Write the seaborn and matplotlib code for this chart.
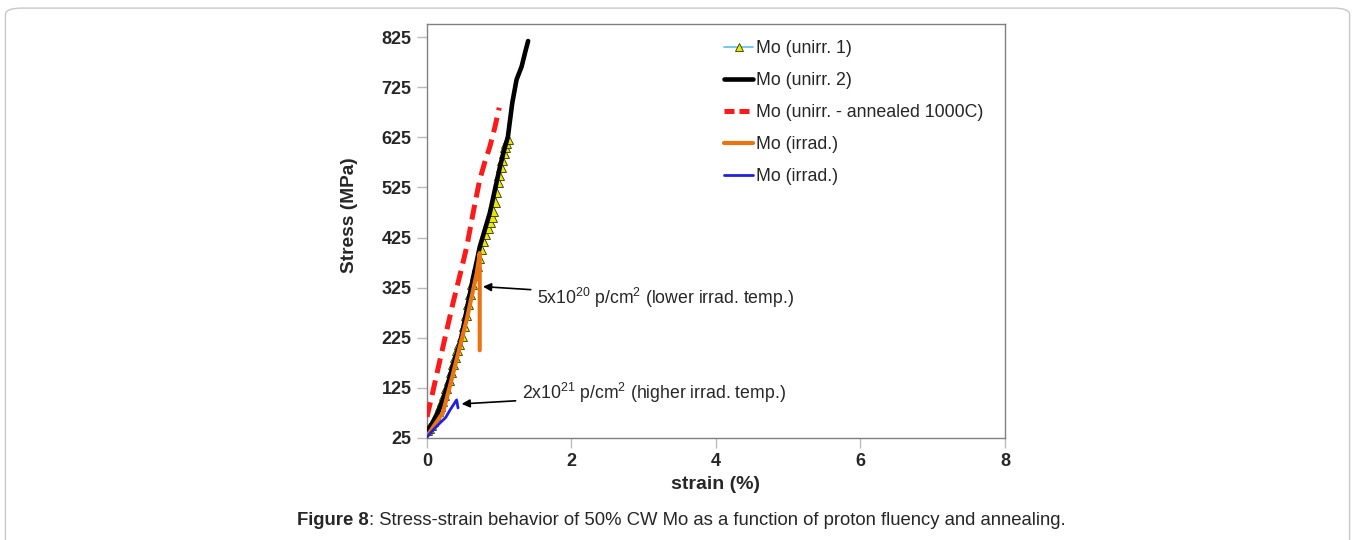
import matplotlib
matplotlib.use("Agg")
import matplotlib.pyplot as plt
import seaborn as sns
import pandas as pd
from matplotlib.patches import FancyBboxPatch

sns.set_theme(style="white")
plt.rcParams['font.family'] = ['Liberation Sans', 'DejaVu Sans']
plt.rcParams['mathtext.fontset'] = 'custom'
plt.rcParams['mathtext.rm'] = 'Liberation Sans'
plt.rcParams['mathtext.it'] = 'Liberation Sans:italic'
plt.rcParams['mathtext.bf'] = 'Liberation Sans:bold'

# ---- data ----
unirr1_strain = [0.00, 0.03, 0.06, 0.09, 0.12, 0.15, 0.18, 0.21, 0.24, 0.27, 0.30, 0.33,
                 0.36, 0.39, 0.42, 0.45, 0.48, 0.51, 0.54, 0.57, 0.60, 0.63, 0.66, 0.69,
                 0.72, 0.75, 0.78, 0.81, 0.84, 0.87, 0.90, 0.92, 0.94, 0.96, 0.98, 1.00,
                 1.02, 1.04, 1.06, 1.08, 1.10, 1.12]
unirr1_stress = [40, 45, 50, 58, 68, 78, 88, 98, 110, 125, 140, 156,
                 172, 187, 200, 212, 228, 248, 270, 292, 312, 332, 350, 368,
                 385, 402, 418, 432, 444, 455, 466, 478, 495, 515, 535, 550,
                 565, 580, 593, 605, 614, 622]

unirr2_strain = [0.00, 0.08, 0.15, 0.22, 0.29, 0.36, 0.41, 0.46, 0.55, 0.64, 0.69, 0.73,
                 0.80, 0.87, 0.94, 1.01, 1.06, 1.12, 1.18, 1.24, 1.31, 1.36, 1.40]
unirr2_stress = [38, 55, 75, 101, 133, 170, 192, 215, 280, 346, 378, 406,
                 440, 474, 520, 566, 595, 626, 693, 740, 766, 795, 817]

anneal_strain = [0.00, 0.07, 0.14, 0.25, 0.36, 0.46, 0.55, 0.64, 0.73, 0.80, 0.87, 0.94, 1.00]
anneal_stress = [67, 110, 155, 225, 294, 352, 406, 475, 540, 575, 606, 645, 684]

irr_low_strain = [0.00, 0.10, 0.22, 0.32, 0.41, 0.48, 0.55, 0.62, 0.69, 0.73, 0.73, 0.73]
irr_low_stress = [28, 50, 75, 130, 181, 222, 261, 308, 354, 394, 326, 200]

irr_high_strain = [0.00, 0.08, 0.18, 0.26, 0.32, 0.37, 0.41, 0.43]
irr_high_stress = [27, 40, 55, 66, 81, 92, 101, 85]

labels = ["Mo (unirr. 1)", "Mo (unirr. 2)", "Mo (unirr. - annealed 1000C)",
          "Mo (irrad.)", "Mo (irrad.)"]
y_ticks = [25, 125, 225, 325, 425, 525, 625, 725, 825]
x_ticks = [0, 2, 4, 6, 8]

fig = plt.figure(figsize=(13.55, 5.4), dpi=100)
ax = fig.add_axes([0.3151, 0.1889, 0.4266, 0.7667])

def df(x, y):
    return pd.DataFrame({"x": x, "y": y})

sns.lineplot(data=df(unirr1_strain, unirr1_stress), x="x", y="y", ax=ax, sort=False,
             estimator=None, color="#5bc0eb", lw=1.2, marker="^", markersize=7,
             markerfacecolor="#e8e800", markeredgecolor="#333300", markeredgewidth=0.6,
             label=labels[0], zorder=3)
sns.lineplot(data=df(unirr2_strain, unirr2_stress), x="x", y="y", ax=ax, sort=False,
             estimator=None, color="black", lw=3.3, label=labels[1], zorder=4)
sns.lineplot(data=df(anneal_strain, anneal_stress), x="x", y="y", ax=ax, sort=False,
             estimator=None, color="#ff1a1a", lw=3.6, label=labels[2], zorder=4)
ax.lines[-1].set_linestyle((0, (3.0, 1.5)))
sns.lineplot(data=df(irr_low_strain, irr_low_stress), x="x", y="y", ax=ax, sort=False,
             estimator=None, color="#e87511", lw=3.0, label=labels[3], zorder=5)
sns.lineplot(data=df(irr_high_strain, irr_high_stress), x="x", y="y", ax=ax, sort=False,
             estimator=None, color="#2020e0", lw=2.0, label=labels[4], zorder=5)

ax.set_xlim(0, 8)
ax.set_ylim(25, 851)
ax.set_xticks(x_ticks)
ax.set_yticks(y_ticks)
ax.set_xticklabels([str(t) for t in x_ticks], fontsize=13, fontweight="bold")
ax.set_yticklabels([str(t) for t in y_ticks], fontsize=13, fontweight="bold")
ax.tick_params(axis="both", direction="out", length=7, width=1, color="#bbbbbb",
               pad=4, bottom=True, left=True)
for s in ax.spines.values():
    s.set_color("#808080")
    s.set_linewidth(1.0)
ax.set_xlabel("strain (%)", fontsize=14, fontweight="bold", labelpad=4)
ax.set_ylabel("Stress (MPa)", fontsize=13.8, fontweight="bold")
ax.yaxis.set_label_coords(-0.12, 0.539)

leg = ax.legend(loc="upper left", bbox_to_anchor=(0.486, 1.0), frameon=False,
                fontsize=12.8, handlelength=1.65, handletextpad=0.15, labelspacing=0.85)
leg.legend_handles[0].set_markersize(6)
leg.legend_handles[2].set_linestyle((0, (2.0, 1.0)))

ax.annotate("5x10$^{20}$ p/cm$^2$ (lower irrad. temp.)", xy=(0.775, 327), xytext=(1.52, 304),
            fontsize=12.7, va="center", ha="left",
            arrowprops=dict(arrowstyle="-|>", color="black", lw=1.2, mutation_scale=12,
                            shrinkA=2, shrinkB=0))
ax.annotate("2x10$^{21}$ p/cm$^2$ (higher irrad. temp.)", xy=(0.48, 93), xytext=(1.31, 115),
            fontsize=12.7, va="center", ha="left",
            arrowprops=dict(arrowstyle="-|>", color="black", lw=1.2, mutation_scale=12,
                            shrinkA=2, shrinkB=0))

t1 = fig.text(0.2192, 0.037, "Figure 8", fontsize=13.3, fontweight="bold", ha="left", va="center")
ax.annotate(": Stress-strain behavior of 50% CW Mo as a function of proton fluency and annealing.",
            xy=(1.0, 0.5), xycoords=t1, xytext=(0, 0), textcoords="offset points",
            fontsize=13.3, ha="left", va="center", annotation_clip=False)

box = FancyBboxPatch((0.004, -0.05), 0.992, 1.035, boxstyle="round,pad=0,rounding_size=0.012",
                     transform=fig.transFigure, facecolor="none", edgecolor="#c8c8c8", lw=1.0,
                     clip_on=False)
fig.patches.append(box)

fig.savefig("out.png", dpi=100)
